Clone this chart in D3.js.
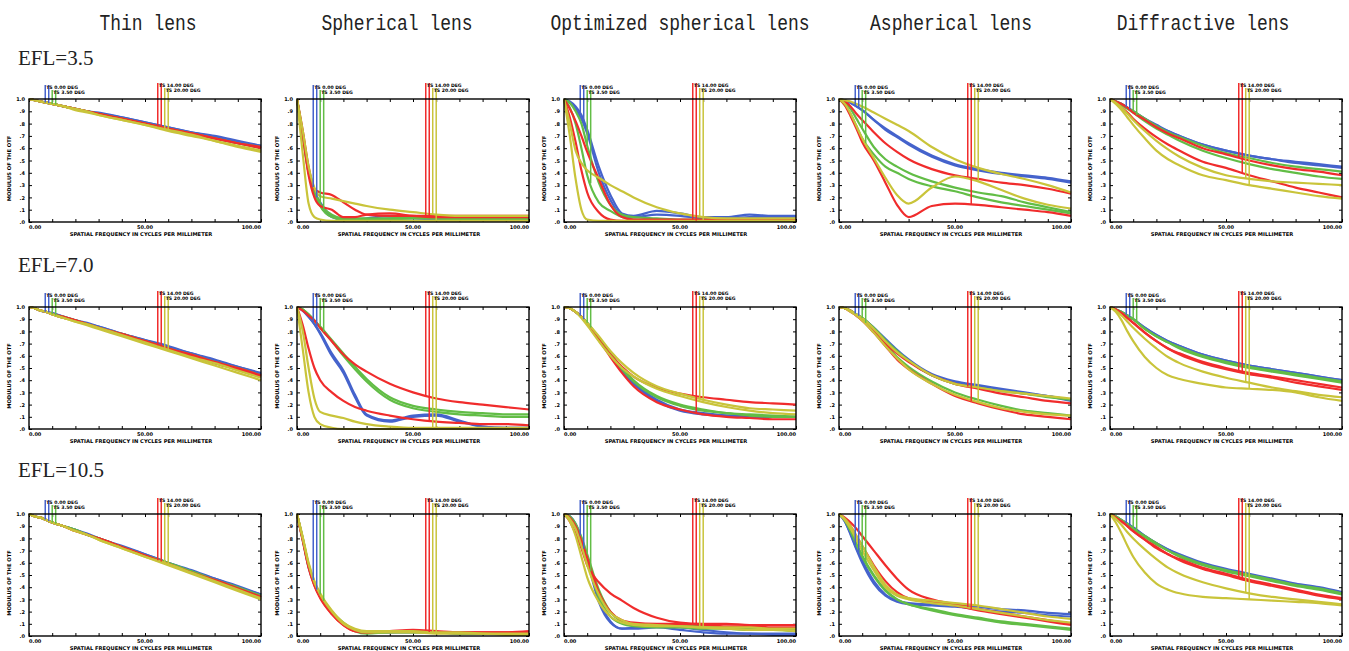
<!DOCTYPE html>
<html>
<head>
<meta charset="utf-8">
<script src="https://cdn.jsdelivr.net/npm/d3@7"></script>
<style>
  html, body { margin: 0; background: #fff; }
  svg { display: block; }
</style>
</head>
<body>
<svg id="fig" width="1349" height="651"></svg>
<script>
// Spatial frequency samples (cycles/mm) shared by every MTF curve
const freq = [0, 2.5, 5, 7.5, 10, 15, 20, 25, 30, 40, 50, 60, 70, 80, 90, 100];

const lensTypes = ["Thin lens", "Spherical lens", "Optimized spherical lens", "Aspherical lens", "Diffractive lens"];
const eflLabels = ["EFL=3.5", "EFL=7.0", "EFL=10.5"];
const yTickLabels = [".0", ".1", ".2", ".3", ".4", ".5", ".6", ".7", ".8", ".9", "1.0"];
const xTickLabels = ["0.00", "50.00", "100.00"];
const fieldLabels = ["TS 0.00 DEG", "TS 3.50 DEG", "TS 14.00 DEG", "TS 20.00 DEG"];
// Frequencies where each field's legend marker drops onto its curve
const markerFreq = [7, 8.5, 10, 11.5, 55.5, 57, 58.5, 60];
const yAxisTitle = "MODULUS OF THE OTF";
const xAxisTitle = "SPATIAL FREQUENCY IN CYCLES PER MILLIMETER";

// Each MTF set: [blue T, blue S, green T, green S, red T, red S, yellow T, yellow S]
const thin35 = [
  [1,.99,.98,.97,.96,.94,.92,.90,.89,.85,.81,.77,.73,.70,.66,.62],
  [1,.99,.98,.97,.96,.94,.92,.90,.88,.85,.81,.77,.73,.69,.65,.62],
  [1,.99,.98,.97,.96,.94,.92,.90,.88,.84,.80,.76,.72,.68,.64,.61],
  [1,.99,.98,.97,.96,.94,.92,.90,.88,.84,.80,.76,.72,.68,.64,.60],
  [1,.99,.98,.97,.96,.94,.92,.90,.88,.84,.80,.76,.72,.68,.64,.61],
  [1,.99,.98,.97,.96,.94,.92,.90,.88,.84,.80,.76,.72,.68,.64,.60],
  [1,.99,.98,.97,.96,.94,.92,.90,.87,.83,.79,.75,.71,.66,.62,.58],
  [1,.99,.98,.97,.96,.94,.91,.89,.87,.83,.79,.74,.70,.66,.61,.57]
];
const sph35 = [
  [1,.72,.42,.25,.16,.05,.02,.02,.03,.05,.04,.02,.02,.02,.02,.02],
  [1,.70,.40,.24,.14,.04,.02,.02,.02,.03,.03,.02,.02,.02,.02,.02],
  [1,.72,.43,.26,.15,.06,.03,.03,.03,.03,.04,.03,.03,.03,.03,.03],
  [1,.70,.40,.24,.13,.04,.02,.02,.02,.02,.03,.03,.02,.02,.02,.02],
  [1,.74,.45,.27,.24,.22,.16,.10,.06,.05,.05,.05,.05,.05,.05,.05],
  [1,.70,.38,.20,.13,.10,.04,.04,.06,.07,.05,.04,.04,.04,.04,.04],
  [1,.74,.45,.28,.21,.19,.17,.15,.13,.10,.08,.06,.05,.05,.05,.05],
  [1,.55,.15,.04,.02,.01,.01,.01,.01,.01,.01,.01,.01,.01,.01,.01]
];
const opt35 = [
  [1,.98,.94,.87,.75,.45,.22,.07,.05,.09,.07,.04,.04,.06,.05,.05],
  [1,.97,.92,.84,.72,.40,.18,.05,.04,.06,.05,.03,.03,.04,.04,.04],
  [1,.97,.90,.80,.62,.32,.14,.06,.04,.03,.02,.02,.02,.02,.02,.02],
  [1,.93,.80,.60,.38,.16,.09,.04,.02,.01,.01,.01,.01,.01,.01,.01],
  [1,.92,.82,.70,.57,.35,.14,.04,.02,.02,.02,.02,.02,.02,.02,.02],
  [1,.85,.65,.42,.24,.08,.02,.01,.01,.01,.01,.01,.01,.01,.01,.01],
  [1,.80,.58,.48,.42,.36,.30,.25,.20,.12,.07,.04,.03,.03,.03,.03],
  [1,.70,.35,.10,.02,.01,.01,.01,.01,.01,.01,.01,.01,.01,.01,.01]
];
const asp35 = [
  [1,.99,.97,.94,.91,.83,.75,.69,.63,.53,.46,.42,.39,.37,.35,.32],
  [1,.99,.97,.94,.91,.83,.76,.70,.64,.54,.47,.43,.40,.38,.36,.33],
  [1,.97,.92,.84,.76,.61,.51,.45,.40,.33,.28,.24,.21,.16,.12,.08],
  [1,.95,.88,.78,.68,.55,.45,.40,.35,.29,.25,.20,.16,.13,.10,.07],
  [1,.98,.94,.88,.83,.73,.64,.57,.51,.43,.38,.35,.32,.30,.27,.23],
  [1,.95,.86,.76,.65,.50,.32,.14,.04,.13,.15,.14,.12,.10,.08,.05],
  [1,.99,.98,.96,.94,.89,.84,.79,.74,.61,.51,.44,.39,.35,.30,.24],
  [1,.96,.88,.78,.68,.52,.36,.22,.15,.28,.37,.33,.26,.19,.14,.11]
];
const dif35 = [
  [1,.98,.96,.93,.90,.84,.79,.74,.70,.63,.58,.54,.51,.49,.47,.45],
  [1,.98,.96,.93,.90,.84,.78,.74,.70,.63,.58,.54,.51,.48,.46,.44],
  [1,.98,.96,.93,.90,.84,.78,.73,.69,.62,.56,.52,.48,.45,.43,.41],
  [1,.98,.95,.92,.89,.82,.76,.71,.66,.58,.52,.47,.43,.40,.37,.35],
  [1,.98,.96,.93,.89,.83,.77,.72,.68,.60,.55,.50,.46,.43,.41,.38],
  [1,.97,.93,.89,.84,.76,.69,.63,.58,.49,.44,.38,.33,.28,.24,.20],
  [1,.97,.93,.88,.83,.74,.66,.59,.53,.44,.38,.35,.33,.32,.31,.30],
  [1,.96,.91,.85,.79,.68,.58,.51,.46,.38,.34,.30,.27,.24,.21,.19]
];

const thin70 = [
  [1,.99,.97,.96,.95,.92,.89,.87,.84,.78,.73,.68,.62,.57,.51,.46],
  [1,.99,.97,.96,.95,.92,.89,.86,.84,.78,.73,.67,.62,.56,.51,.45],
  [1,.99,.97,.96,.94,.92,.89,.86,.83,.78,.72,.66,.61,.55,.50,.44],
  [1,.99,.97,.96,.94,.91,.89,.86,.83,.77,.72,.66,.60,.54,.49,.43],
  [1,.99,.97,.96,.94,.92,.89,.86,.83,.78,.72,.66,.61,.55,.50,.44],
  [1,.99,.97,.96,.94,.91,.89,.86,.83,.77,.72,.66,.60,.54,.49,.43],
  [1,.99,.97,.96,.94,.91,.88,.86,.83,.77,.71,.65,.59,.54,.48,.42],
  [1,.99,.97,.96,.94,.91,.88,.85,.82,.76,.70,.64,.58,.52,.46,.40]
];
const sph70 = [
  [1,.97,.92,.86,.79,.62,.48,.28,.12,.07,.11,.12,.07,.02,.01,.01],
  [1,.97,.92,.86,.78,.60,.46,.26,.11,.06,.10,.11,.06,.02,.01,.01],
  [1,.98,.94,.89,.84,.73,.62,.51,.41,.26,.19,.16,.14,.13,.12,.12],
  [1,.98,.94,.89,.83,.72,.60,.49,.39,.24,.17,.14,.12,.11,.10,.10],
  [1,.97,.93,.89,.83,.72,.61,.53,.47,.37,.30,.25,.22,.20,.18,.16],
  [1,.85,.66,.50,.40,.30,.23,.18,.15,.11,.08,.06,.05,.04,.04,.03],
  [1,.80,.50,.25,.14,.11,.09,.06,.04,.02,.01,.01,.01,.01,.01,.01],
  [1,.65,.30,.10,.04,.01,.00,.00,.00,.00,.00,.00,.00,.00,.00,.00]
];
const opt70 = [
  [1,.99,.96,.92,.87,.74,.60,.47,.37,.23,.15,.12,.11,.11,.10,.10],
  [1,.99,.96,.92,.87,.74,.61,.48,.38,.24,.16,.13,.11,.10,.10,.10],
  [1,.99,.96,.92,.87,.75,.62,.50,.40,.27,.20,.16,.13,.12,.11,.10],
  [1,.99,.96,.92,.87,.74,.61,.49,.39,.26,.19,.15,.13,.11,.10,.10],
  [1,.99,.96,.92,.86,.73,.61,.51,.43,.34,.29,.26,.24,.22,.21,.20],
  [1,.99,.96,.92,.86,.73,.59,.46,.35,.22,.16,.12,.10,.09,.08,.08],
  [1,.99,.96,.92,.87,.76,.64,.54,.46,.35,.29,.24,.20,.17,.16,.15],
  [1,.99,.96,.91,.85,.72,.60,.50,.43,.33,.27,.22,.18,.15,.13,.12]
];
const asp70 = [
  [1,.99,.97,.94,.91,.83,.74,.65,.57,.45,.39,.36,.33,.30,.27,.23],
  [1,.99,.97,.94,.91,.83,.73,.64,.56,.44,.38,.35,.32,.29,.27,.24],
  [1,.99,.97,.94,.91,.83,.73,.64,.56,.44,.37,.34,.31,.29,.26,.24],
  [1,.99,.97,.94,.90,.80,.69,.59,.51,.39,.30,.24,.19,.15,.13,.11],
  [1,.99,.97,.93,.89,.80,.70,.62,.55,.44,.37,.33,.29,.26,.23,.21],
  [1,.99,.96,.93,.89,.79,.68,.57,.49,.37,.27,.21,.16,.12,.10,.08],
  [1,.99,.97,.94,.91,.82,.72,.63,.56,.44,.37,.34,.31,.29,.27,.25],
  [1,.99,.96,.93,.89,.79,.68,.58,.49,.37,.28,.22,.17,.14,.12,.11]
];
const dif70 = [
  [1,.98,.96,.93,.90,.83,.77,.72,.68,.61,.56,.52,.49,.46,.43,.40],
  [1,.98,.96,.93,.90,.83,.77,.72,.68,.61,.56,.52,.49,.46,.43,.40],
  [1,.98,.96,.93,.90,.82,.76,.71,.67,.60,.55,.51,.48,.45,.42,.39],
  [1,.98,.96,.93,.90,.82,.76,.71,.66,.59,.54,.50,.47,.44,.41,.38],
  [1,.98,.95,.91,.87,.79,.72,.66,.62,.55,.50,.46,.43,.40,.37,.34],
  [1,.98,.95,.91,.87,.79,.72,.66,.61,.54,.49,.45,.42,.38,.35,.32],
  [1,.97,.93,.88,.83,.74,.66,.59,.54,.47,.42,.38,.34,.31,.28,.26],
  [1,.96,.89,.80,.72,.59,.50,.44,.41,.37,.34,.33,.32,.30,.26,.23]
];

const thin105 = [
  [1,.98,.97,.95,.93,.90,.87,.84,.80,.74,.67,.60,.54,.47,.41,.34],
  [1,.98,.97,.95,.93,.90,.87,.83,.80,.73,.67,.60,.53,.47,.40,.34],
  [1,.98,.97,.95,.93,.90,.87,.83,.80,.73,.66,.60,.53,.46,.40,.33],
  [1,.98,.97,.95,.93,.90,.87,.83,.80,.73,.66,.59,.53,.46,.39,.33],
  [1,.98,.97,.95,.93,.90,.86,.83,.80,.73,.66,.59,.52,.46,.39,.32],
  [1,.98,.97,.95,.93,.90,.86,.83,.80,.73,.66,.59,.52,.45,.39,.32],
  [1,.98,.97,.95,.93,.90,.86,.83,.79,.72,.65,.59,.52,.45,.38,.31],
  [1,.98,.97,.95,.93,.90,.86,.83,.79,.72,.65,.58,.51,.44,.37,.30]
];
const sph105 = [
  [1,.80,.58,.43,.33,.20,.10,.05,.03,.03,.04,.03,.02,.02,.02,.02],
  [1,.78,.56,.42,.32,.19,.10,.05,.03,.03,.03,.03,.02,.02,.02,.02],
  [1,.80,.58,.44,.34,.20,.11,.05,.03,.04,.04,.03,.03,.02,.02,.02],
  [1,.79,.57,.43,.33,.19,.10,.04,.02,.03,.03,.03,.02,.02,.02,.01],
  [1,.79,.57,.42,.32,.18,.09,.04,.03,.04,.05,.04,.03,.03,.03,.04],
  [1,.78,.56,.41,.31,.18,.09,.04,.03,.04,.04,.03,.03,.03,.03,.03],
  [1,.81,.60,.45,.35,.21,.11,.06,.04,.04,.04,.03,.03,.02,.02,.02],
  [1,.80,.59,.44,.34,.20,.10,.05,.03,.03,.03,.02,.02,.02,.01,.01]
];
const opt105 = [
  [1,.98,.92,.80,.64,.30,.12,.06,.07,.08,.07,.05,.03,.02,.02,.02],
  [1,.98,.91,.78,.62,.28,.11,.06,.06,.07,.05,.03,.02,.02,.01,.01],
  [1,.98,.92,.81,.67,.38,.20,.12,.10,.09,.09,.08,.07,.06,.06,.05],
  [1,.97,.90,.78,.62,.32,.16,.10,.08,.07,.07,.06,.06,.05,.05,.04],
  [1,.94,.84,.72,.58,.44,.35,.29,.23,.15,.11,.10,.10,.09,.09,.09],
  [1,.97,.90,.78,.64,.36,.20,.13,.11,.10,.10,.09,.08,.08,.07,.07],
  [1,.94,.82,.65,.48,.28,.16,.11,.09,.08,.08,.07,.07,.07,.06,.06],
  [1,.96,.88,.74,.58,.34,.19,.13,.10,.09,.08,.07,.06,.05,.05,.04]
];
const asp105 = [
  [1,.94,.84,.72,.62,.45,.34,.29,.27,.26,.26,.24,.22,.21,.19,.18],
  [1,.94,.83,.71,.60,.43,.33,.28,.26,.25,.24,.22,.20,.19,.17,.16],
  [1,.95,.86,.76,.66,.50,.38,.30,.26,.22,.18,.15,.12,.10,.08,.06],
  [1,.95,.86,.75,.65,.49,.37,.30,.26,.21,.17,.14,.11,.09,.07,.05],
  [1,.97,.93,.88,.82,.70,.58,.47,.38,.30,.26,.22,.19,.16,.13,.10],
  [1,.96,.90,.82,.74,.58,.45,.36,.31,.28,.25,.21,.18,.15,.12,.09],
  [1,.96,.90,.82,.74,.57,.42,.34,.31,.29,.27,.25,.22,.19,.16,.14],
  [1,.95,.88,.79,.70,.54,.40,.33,.30,.27,.25,.22,.19,.16,.13,.11]
];
const dif105 = [
  [1,.98,.95,.92,.89,.82,.76,.71,.67,.60,.55,.51,.47,.43,.40,.36],
  [1,.98,.95,.92,.89,.82,.76,.71,.66,.59,.54,.50,.46,.42,.39,.35],
  [1,.98,.95,.92,.88,.82,.76,.70,.66,.59,.54,.50,.46,.42,.39,.35],
  [1,.98,.95,.91,.88,.81,.75,.70,.65,.58,.53,.49,.45,.41,.38,.34],
  [1,.97,.94,.90,.86,.79,.73,.67,.63,.56,.51,.46,.42,.38,.34,.31],
  [1,.97,.94,.90,.86,.79,.72,.67,.62,.55,.50,.45,.41,.37,.33,.30],
  [1,.96,.91,.85,.80,.71,.63,.56,.51,.44,.39,.35,.32,.30,.28,.26],
  [1,.93,.84,.74,.65,.52,.43,.38,.35,.32,.31,.30,.29,.28,.27,.25]
];

const panels = [
  [thin35, sph35, opt35, asp35, dif35],
  [thin70, sph70, opt70, asp70, dif70],
  [thin105, sph105, opt105, asp105, dif105]
];

// Field colours: blue, green, red, yellow (T and S share a colour)
const fieldColors = ["#4563cc", "#62bd46", "#f02c2c", "#c9c43a"];

// Plot-area geometry of the 3 x 5 grid
const colX = [[29, 261], [297, 529], [564, 796], [839, 1071], [1110, 1342]];
const rowY = [[99, 222], [307, 429], [514, 636]];
const titleX = [148, 397, 680, 951, 1203];
const eflY = [65, 272, 477];

const svg = d3.select("#fig");
svg.append("rect").attr("width", 1349).attr("height", 651).attr("fill", "#fff");

// Column headings (tall, narrow serif face)
svg.selectAll("text.coltitle").data(lensTypes).join("text")
  .attr("class", "coltitle")
  .attr("transform", (d, i) => `translate(${titleX[i]},30) scale(1,1.22)`)
  .attr("text-anchor", "middle")
  .attr("font-family", "'Liberation Mono', monospace")
  .attr("font-size", 18).attr("fill", "#222")
  .text(d => d);

// Row headings
svg.selectAll("text.efl").data(eflLabels).join("text")
  .attr("class", "efl")
  .attr("x", 18).attr("y", (d, i) => eflY[i])
  .attr("font-family", "'Liberation Serif', serif")
  .attr("font-size", 21).attr("fill", "#222")
  .text(d => d);

const tinyFont = "'DejaVu Sans', sans-serif";

function interp(series, f) {
  const i = d3.bisectRight(freq, f) - 1;
  const j = Math.min(i + 1, freq.length - 1);
  if (i === j) return series[i];
  const t = (f - freq[i]) / (freq[j] - freq[i]);
  return series[i] + t * (series[j] - series[i]);
}

panels.forEach((row, r) => {
  row.forEach((set, c) => {
    const [L, R] = colX[c];
    const [T, B] = rowY[r];
    const x = d3.scaleLinear().domain([0, 100]).range([L, R]);
    const y = d3.scaleLinear().domain([0, 1]).range([B, T]);
    const g = svg.append("g");

    // Inward ticks on all four sides
    const xt = d3.range(0, 101, 10);
    const yt = d3.range(11).map(i => i / 10);
    const axB = g.append("g").attr("transform", `translate(0,${B})`)
      .call(d3.axisBottom(x).tickValues(xt).tickSizeInner(-3).tickSizeOuter(0).tickFormat(""));
    const axT = g.append("g").attr("transform", `translate(0,${T})`)
      .call(d3.axisTop(x).tickValues(xt).tickSizeInner(-3).tickSizeOuter(0).tickFormat(""));
    const axL = g.append("g").attr("transform", `translate(${L},0)`)
      .call(d3.axisLeft(y).tickValues(yt).tickSizeInner(-3).tickSizeOuter(0)
        .tickPadding(4).tickFormat((d, i) => yTickLabels[i]));
    const axR = g.append("g").attr("transform", `translate(${R},0)`)
      .call(d3.axisRight(y).tickValues(yt).tickSizeInner(-3).tickSizeOuter(0).tickFormat(""));
    [axB, axT, axL, axR].forEach(a => {
      a.select(".domain").remove();
      a.selectAll("line").attr("stroke", "#000").attr("stroke-width", 1);
    });
    axL.selectAll("text").attr("font-family", tinyFont).attr("font-size", 5)
      .attr("font-weight", "bold").attr("fill", "#000");

    // MTF curves
    const line = d3.line()
      .x((d, i) => x(freq[i]))
      .y(d => y(d))
      .curve(d3.curveMonotoneX);
    const plot = g.append("g");
    set.forEach((s, k) => {
      plot.append("path")
        .attr("d", line(s))
        .attr("fill", "none")
        .attr("stroke", fieldColors[Math.floor(k / 2)])
        .attr("stroke-width", 2.2)
        .attr("stroke-linejoin", "round");
    });

    // Legend markers dropping onto the curves
    markerFreq.forEach((f, k) => {
      const grp = k < 4 ? 0 : 1;
      const second = (k % 4) >= 2;
      const top = T - (grp === 0 ? 14 : 16) + (second ? 5 : 0);
      g.append("line")
        .attr("x1", x(f)).attr("x2", x(f))
        .attr("y1", top).attr("y2", y(interp(set[k], f)))
        .attr("stroke", fieldColors[Math.floor(k / 2)])
        .attr("stroke-width", 1.5);
    });
    [0, 2, 4, 6].forEach((k, n) => {
      const grp = k < 4 ? 0 : 1;
      const second = (k % 4) >= 2;
      g.append("text")
        .attr("x", x(markerFreq[k]) + 1)
        .attr("y", T - (grp === 0 ? 10 : 12) + (second ? 5 : 0))
        .attr("font-family", tinyFont).attr("font-size", 4.6)
        .attr("font-weight", "bold").attr("fill", "#000")
        .text(fieldLabels[n]);
    });

    // Frame
    g.append("rect").attr("x", L).attr("y", T)
      .attr("width", R - L).attr("height", B - T)
      .attr("fill", "none").attr("stroke", "#000").attr("stroke-width", 1.4);

    // X tick labels
    const xl = [0, 50, 100];
    const anchors = ["start", "middle", "end"];
    xl.forEach((v, i) => {
      g.append("text")
        .attr("x", x(v)).attr("y", B + 7)
        .attr("text-anchor", anchors[i])
        .attr("font-family", tinyFont).attr("font-size", 5)
        .attr("font-weight", "bold").attr("fill", "#000")
        .text(xTickLabels[i]);
    });

    // Axis titles
    g.append("text")
      .attr("x", (L + R) / 2 - 4).attr("y", B + 14)
      .attr("text-anchor", "middle")
      .attr("font-family", tinyFont).attr("font-size", 5.2)
      .attr("font-weight", "bold").attr("fill", "#000")
      .text(xAxisTitle);
    g.append("text")
      .attr("transform", `translate(${L - 18},${(T + B) / 2 + 8}) rotate(-90)`)
      .attr("text-anchor", "middle")
      .attr("font-family", tinyFont).attr("font-size", 5.2)
      .attr("font-weight", "bold").attr("fill", "#000")
      .text(yAxisTitle);
  });
});
</script>
</body>
</html>
